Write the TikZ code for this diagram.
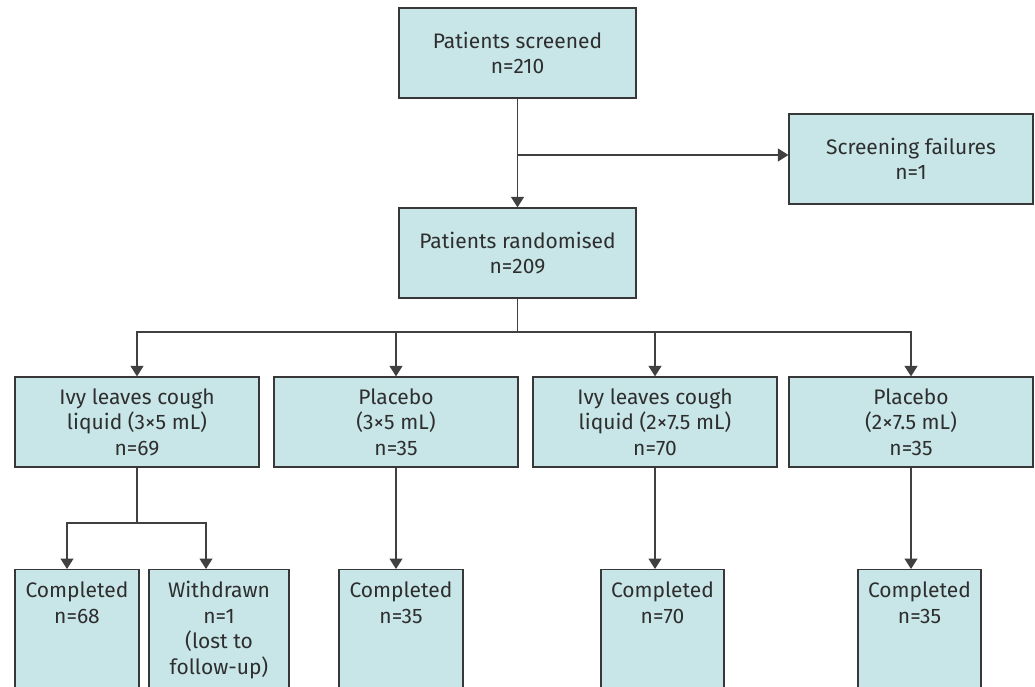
\documentclass[tikz,border=0pt]{standalone}
\usepackage{fontspec}
\setmainfont{Fira Sans}
\usetikzlibrary{arrows.meta}
\definecolor{boxfill}{HTML}{C8E6E8}
\definecolor{boxline}{HTML}{383838}
\definecolor{txtcol}{HTML}{2E2E2E}
\definecolor{conncol}{HTML}{404040}
\begin{document}
\begin{tikzpicture}[x=1pt,y=-1pt,
  box/.style={draw=boxline, line width=1.3pt, fill=boxfill, text=txtcol,
    font=\fontsize{21}{25.5}\selectfont, align=center, inner sep=0pt, minimum height=90pt},
  lowbox/.style={draw=boxline, line width=1.3pt, fill=boxfill, text=txtcol,
    font=\fontsize{21}{25.5}\selectfont, inner sep=0pt, anchor=north},
  conn/.style={draw=conncol, line width=1.2pt},
  arr/.style={conn, -{Triangle[width=13pt,length=10.5pt]}}]
\clip (0,0) rectangle (1035,686);
\fill[white] (0,0) rectangle (1035,686);

\node[box, minimum width=237pt] (scr) at (517.5,53) {Patients screened\\n=210};
\node[box, minimum width=244pt] (fail) at (911,159) {Screening failures\\n=1};
\node[box, minimum width=237pt] (rand) at (517.5,253) {Patients randomised\\n=209};

\node[box, minimum width=244pt] (a1) at (137,422) {Ivy leaves cough\\liquid (3×5 mL)\\n=69};
\node[box, minimum width=244pt] (a2) at (396,422) {Placebo\\(3×5 mL)\\n=35};
\node[box, minimum width=244pt] (a3) at (655,422) {Ivy leaves cough\\liquid (2×7.5 mL)\\n=70};
\node[box, minimum width=244pt] (a4) at (911,422) {Placebo\\(2×7.5 mL)\\n=35};

\node[lowbox] (c1) at (77,569) {\parbox[c][131pt][t]{124pt}{\centering\rule{0pt}{28pt}Completed\\n=68}};
\node[lowbox] (w1) at (219,569) {\parbox[c][131pt][t]{140pt}{\centering\rule{0pt}{28pt}Withdrawn\\n=1\\(lost to\\follow-up)}};
\node[lowbox] (c2) at (401,569) {\parbox[c][131pt][t]{124pt}{\centering\rule{0pt}{28pt}Completed\\n=35}};
\node[lowbox] (c3) at (662.5,569) {\parbox[c][131pt][t]{123pt}{\centering\rule{0pt}{28pt}Completed\\n=70}};
\node[lowbox] (c4) at (919.5,569) {\parbox[c][131pt][t]{123pt}{\centering\rule{0pt}{28pt}Completed\\n=35}};

% screening
\draw[arr] (scr) -- (rand);
\coordinate (jf) at (517.5,155);
\draw[arr] (jf) -- (jf -| fail.west);

% randomisation
\coordinate (jr) at (517.5,332);
\draw[conn] (rand) -- (jr);
\draw[arr] (jr) -| (a1.north);
\draw[arr] (jr) -| (a2.north);
\draw[arr] (jr) -| (a3.north);
\draw[arr] (jr) -| (a4.north);

% follow-up
\coordinate (j1) at (137,523);
\coordinate (t1) at (67,569);
\coordinate (t2) at (206,569);
\draw[conn] (a1) -- (j1);
\draw[arr] (j1) -| (t1);
\draw[arr] (j1) -| (t2);
\draw[arr] (a2) -- (a2.south |- c2.north);
\draw[arr] (a3) -- (a3.south |- c3.north);
\draw[arr] (a4) -- (a4.south |- c4.north);
\end{tikzpicture}
\end{document}
